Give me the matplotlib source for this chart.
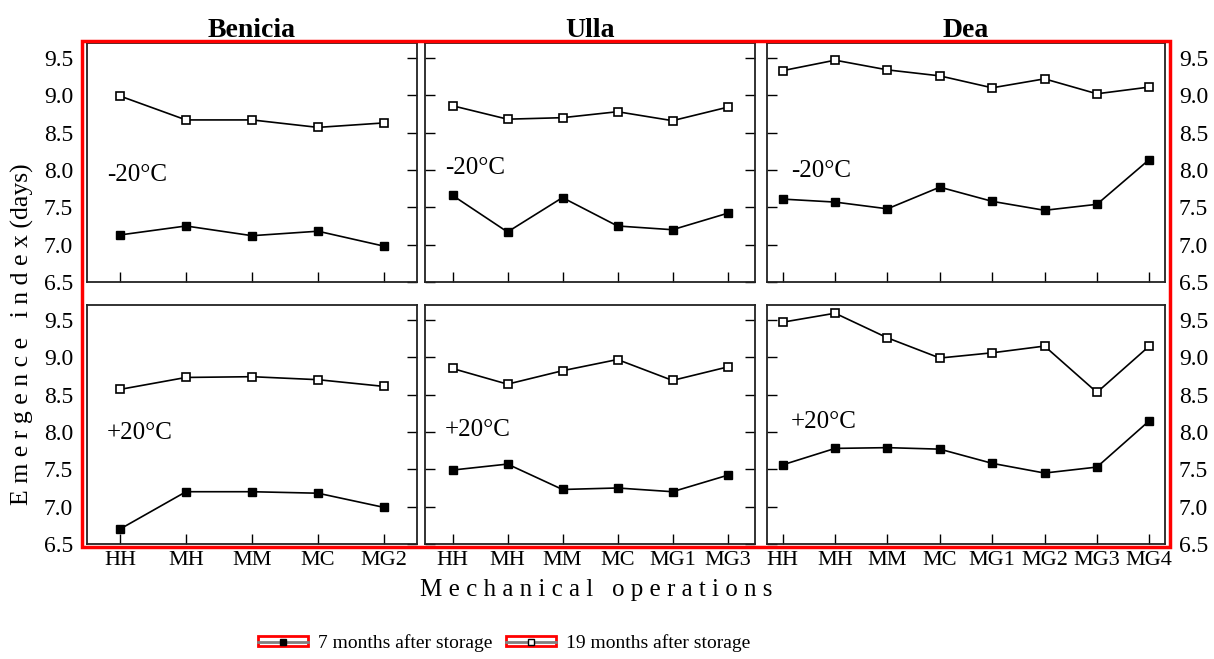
import numpy as np
import matplotlib.pyplot as plt
from matplotlib.patches import Rectangle
from matplotlib.lines import Line2D

plt.rcParams['font.family'] = ['Liberation Serif', 'DejaVu Serif']

# data
ops_benicia = ['HH', 'MH', 'MM', 'MC', 'MG2']
ops_ulla = ['HH', 'MH', 'MM', 'MC', 'MG1', 'MG3']
ops_dea = ['HH', 'MH', 'MM', 'MC', 'MG1', 'MG2', 'MG3', 'MG4']

benicia_m20_7 = [7.13, 7.25, 7.12, 7.18, 6.98]
benicia_m20_19 = [8.99, 8.67, 8.67, 8.57, 8.63]
ulla_m20_7 = [7.66, 7.17, 7.63, 7.25, 7.20, 7.42]
ulla_m20_19 = [8.86, 8.68, 8.70, 8.78, 8.66, 8.84]
dea_m20_7 = [7.61, 7.57, 7.48, 7.77, 7.58, 7.46, 7.54, 8.14]
dea_m20_19 = [9.33, 9.47, 9.34, 9.26, 9.10, 9.22, 9.02, 9.11]

benicia_p20_7 = [6.70, 7.20, 7.20, 7.18, 6.99]
benicia_p20_19 = [8.57, 8.73, 8.74, 8.70, 8.61]
ulla_p20_7 = [7.49, 7.57, 7.23, 7.25, 7.20, 7.42]
ulla_p20_19 = [8.85, 8.64, 8.82, 8.97, 8.69, 8.87]
dea_p20_7 = [7.56, 7.78, 7.79, 7.77, 7.58, 7.45, 7.53, 8.15]
dea_p20_19 = [9.47, 9.59, 9.26, 8.99, 9.06, 9.15, 8.53, 9.15]

yticks = [6.5, 7.0, 7.5, 8.0, 8.5, 9.0, 9.5]

fig = plt.figure(figsize=(12.14, 6.59), dpi=100)

W, H = 1214.0, 659.0
def box(x0, x1, y0, y1):
    return [x0 / W, 1 - y1 / H, (x1 - x0) / W, (y1 - y0) / H]

cols = [(87, 417, ops_benicia, -0.5, 'Benicia'),
        (425, 755, ops_ulla, -0.5, 'Ulla'),
        (767, 1165, ops_dea, -0.3, 'Dea')]
rows = [(43, 282, '-20\u00b0C'), (305, 544, '+20\u00b0C')]
series = [[(benicia_m20_7, benicia_m20_19), (ulla_m20_7, ulla_m20_19), (dea_m20_7, dea_m20_19)],
          [(benicia_p20_7, benicia_p20_19), (ulla_p20_7, ulla_p20_19), (dea_p20_7, dea_p20_19)]]
label_y = [[7.93, 8.03, 7.99], [7.99, 8.03, 8.13]]

for r, (y0, y1, temp) in enumerate(rows):
    for c, (x0, x1, ops, pad, name) in enumerate(cols):
        ax = fig.add_axes(box(x0, x1, y0, y1))
        x = np.arange(len(ops))
        s7, s19 = series[r][c]
        ax.plot(x, s19, color='black', lw=1.2, marker='s', ms=6,
                mfc='white', mec='black', mew=1.2)
        ax.plot(x, s7, color='black', lw=1.2, marker='s', ms=6,
                mfc='black', mec='black')
        ax.set_xlim(pad, len(ops) - 1 - pad)
        ax.set_ylim(6.5, 9.7)
        ax.set_yticks(yticks)
        ax.set_xticks(x)
        ax.tick_params(direction='in', length=7, width=1, labelsize=17,
                       top=False, bottom=True)
        ax.tick_params(axis='x', pad=5, labelsize=16)
        ax.tick_params(axis='y', pad=10)
        if r == 1:
            ax.set_xticklabels(ops)
        else:
            ax.set_xticklabels([])
        if c == 0:
            ax.tick_params(axis='y', left=False, right=True,
                           labelleft=True, labelright=False)
        elif c == 2:
            ax.tick_params(axis='y', left=True, right=False,
                           labelleft=False, labelright=True)
        else:
            ax.tick_params(axis='y', left=True, right=True,
                           labelleft=False, labelright=False)
        for sp in ax.spines.values():
            sp.set_linewidth(1.3)
            sp.set_color('#222222')
        ax.text(0.06, label_y[r][c], temp, transform=ax.get_yaxis_transform(),
                fontsize=18, ha='left', va='center')
        if r == 0:
            ax.set_title(name, fontsize=20, fontweight='bold', pad=4)

# red frame around the panels
fig.add_artist(Rectangle((82 / W, 1 - 547 / H), (1170 - 82) / W, (547 - 41) / H,
                         transform=fig.transFigure, fill=False, ec='red', lw=2.5))

fig.text(22 / W, 1 - 334 / H, 'E m e r g e n c e   i n d e x (days)', rotation=90,
         ha='center', va='center', fontsize=18.5)
fig.text(596 / W, 1 - 590 / H, 'M e c h a n i c a l   o p e r a t i o n s',
         ha='center', va='center', fontsize=18)

box_h = Rectangle((0, 0), 1, 1, fc='white', ec='red', lw=2)
h7 = Line2D([], [], color='gray', lw=2, marker='s', ms=4, mfc='black', mec='black')
h19 = Line2D([], [], color='gray', lw=2, marker='s', ms=4, mfc='white', mec='black')
fig.legend([(box_h, h7), (box_h, h19)],
           ['7 months after storage', '19 months after storage'],
           loc='center', bbox_to_anchor=(504 / W, 1 - 643 / H), ncol=2,
           frameon=False, fontsize=14, handlelength=2.6, handleheight=0.45,
           columnspacing=0.7, handletextpad=0.5)

fig.savefig('out.png', dpi=100)
